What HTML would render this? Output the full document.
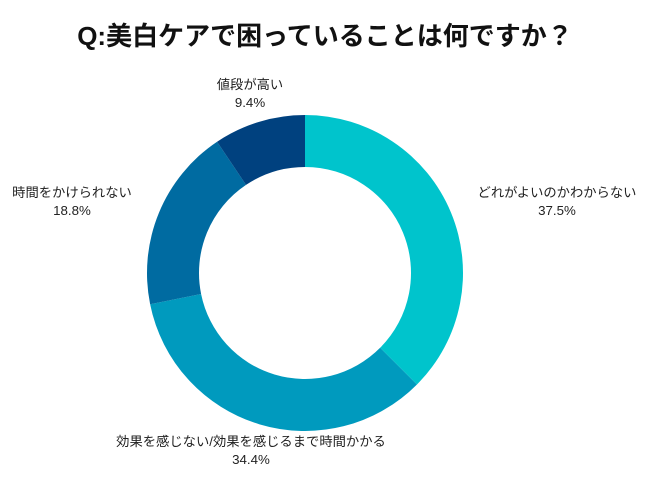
<!DOCTYPE html>
<html><head><meta charset="utf-8"><style>
body{margin:0;background:#fff;width:650px;height:487px;overflow:hidden;font-family:"Liberation Sans","Noto Sans CJK JP",sans-serif}
.t{position:absolute;font-size:13.3px;color:#222;text-align:center;line-height:18px;white-space:nowrap}
</style></head><body>
<div style="position:absolute;top:20px;left:0;width:650px;text-align:center;font-size:26px;line-height:32px;font-weight:bold;color:#111">Q:美白ケアで困っていることは何ですか？</div>
<svg id="c" width="650" height="487" style="position:absolute;left:0;top:0"></svg>
<div id="labels"></div>
<script>
const categories=["どれがよいのかわからない","効果を感じない/効果を感じるまで時間かかる","時間をかけられない","値段が高い"];
const values=[37.5,34.4,18.8,9.4];
const colors=["#00C4CC","#009ABE","#006BA1","#00417F"];
const labelPos=[[557,202],[251,451],[72,202],[250,94]];
const cx=305,cy=273,R=158,r=106;
const svg=document.getElementById('c');
const total=values.reduce((a,b)=>a+b,0);
let a0=-Math.PI/2;
function pt(a,rad){return [cx+rad*Math.cos(a),cy+rad*Math.sin(a)];}
values.forEach((v,i)=>{
 const a1=a0+v/total*2*Math.PI;
 const large=(a1-a0)>Math.PI?1:0;
 const [x0,y0]=pt(a0,R),[x1,y1]=pt(a1,R),[x2,y2]=pt(a1,r),[x3,y3]=pt(a0,r);
 const p=document.createElementNS("http://www.w3.org/2000/svg","path");
 p.setAttribute('d',`M${x0},${y0}A${R},${R} 0 ${large} 1 ${x1},${y1}L${x2},${y2}A${r},${r} 0 ${large} 0 ${x3},${y3}Z`);
 p.setAttribute('fill',colors[i]);
 
 
 svg.appendChild(p);
 const d=document.createElement('div');
 d.className='t';
 
 
 d.innerHTML=categories[i]+'<br>'+values[i].toFixed(1)+'%';
 d.style.left=(labelPos[i][0]-200)+'px';d.style.width='400px';d.style.top=(labelPos[i][1]-18)+'px';
 document.getElementById('labels').appendChild(d);
 a0=a1;
});
</script>
</body></html>
